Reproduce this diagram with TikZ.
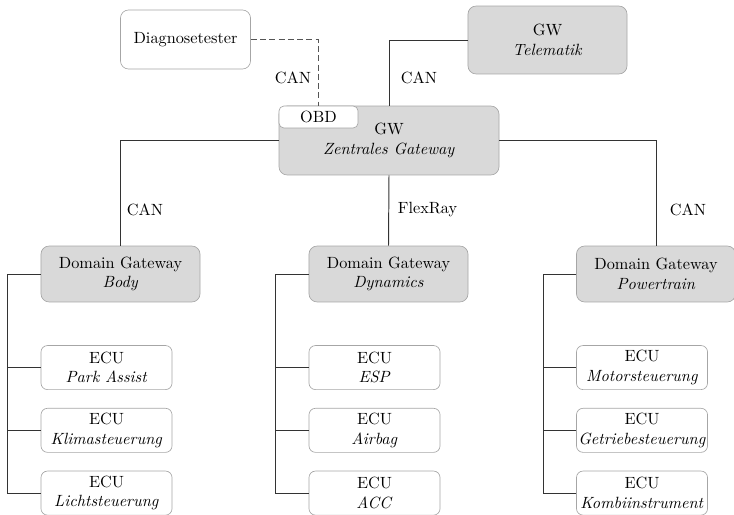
\documentclass[tikz,border=0pt]{standalone}
\usepackage{xcolor}
\definecolor{cLine}{HTML}{333333}
\definecolor{cBorder}{HTML}{A6A6A6}
\definecolor{cFill}{HTML}{D9D9D9}
\definecolor{cDash}{HTML}{555555}
\usetikzlibrary{positioning,calc}
\tikzset{
  node-gw/.style={draw=cBorder,fill=cFill,rounded corners=5pt,align=center,
    inner sep=0pt,minimum width=97.8pt},
  node-ecu/.style={draw=cBorder,fill=white,rounded corners=4pt,align=center,
    inner sep=0pt,minimum width=80.6pt,minimum height=27.1pt},
  node-tester/.style={draw=cBorder,fill=white,rounded corners=5pt,align=center,
    inner sep=0pt,minimum width=80pt,minimum height=36.3pt},
  node-port/.style={draw=cBorder,fill=white,rounded corners=3pt,
    inner sep=0pt,minimum width=48.6pt,minimum height=13.5pt},
  bus/.style={draw=cLine,semithick},
  bus-diag/.style={draw=cDash,semithick,dash pattern=on 3.7pt off 2pt},
}

\begin{document}
\begin{tikzpicture}[x=0.615pt,y=-0.615pt,node distance=11.1pt]
  \useasboundingbox (0,0) rectangle (734,515);
  % Gateways
  \node[node-tester] (diag) at (185.5,39.5) {Diagnosetester};
  \node[node-gw,minimum height=41.8pt] (gwt) at (547.5,40) {GW\\\textit{Telematik}};
  \node[node-gw,minimum width=135.3pt,minimum height=42.4pt] (gwz) at (389,140.5)
    {GW\\\textit{Zentrales Gateway}};
  \node[node-port,anchor=north west] (obd) at (gwz.north west) {OBD};
  \node[node-gw,minimum height=34.4pt] (gwb) at (120.5,274) {Domain Gateway\\\textit{Body}};
  \node[node-gw,minimum height=34.4pt] (gwd) at (388.5,274) {Domain Gateway\\\textit{Dynamics}};
  \node[node-gw,minimum height=34.4pt] (gwp) at (656,274) {Domain Gateway\\\textit{Powertrain}};
  % ECUs
  \node[node-ecu,below=26.4pt of gwb.south west,anchor=north west] (ecuB1) {ECU\\\textit{Park Assist}};
  \node[node-ecu,below=of ecuB1] (ecuB2) {ECU\\\textit{Klimasteuerung}};
  \node[node-ecu,below=of ecuB2] (ecuB3) {ECU\\\textit{Lichtsteuerung}};
  \node[node-ecu,below=26.4pt of gwd.south west,anchor=north west] (ecuD1) {ECU\\\textit{ESP}};
  \node[node-ecu,below=of ecuD1] (ecuD2) {ECU\\\textit{Airbag}};
  \node[node-ecu,below=of ecuD2] (ecuD3) {ECU\\\textit{ACC}};
  \node[node-ecu,below=26.4pt of gwp.south west,anchor=north west] (ecuP1) {ECU\\\textit{Motorsteuerung}};
  \node[node-ecu,below=of ecuP1] (ecuP2) {ECU\\\textit{Getriebesteuerung}};
  \node[node-ecu,below=of ecuP2] (ecuP3) {ECU\\\textit{Kombiinstrument}};
  % Bus labels
  \node (lDiag) at (293,78) {CAN};
  \node (lTel) at (419,78) {CAN};
  \node (lBody) at (145,210) {CAN};
  \node (lDyn) at (427.5,210) {FlexRay};
  \node (lPow) at (688,210) {CAN};
  % Connections
  \draw[bus-diag] (diag.east) -| (obd.north);
  \draw[bus] (gwt.west) -| (gwz.north);
  \draw[bus] (gwz.west) -| (gwb.north);
  \draw[bus] (gwz.south) -- (gwd.north);
  \draw[bus] (gwz.east) -| (gwp.north);
  \foreach \g/\e in {gwb/ecuB,gwd/ecuD,gwp/ecuP}{
    \draw[bus] (\g.west) -- ++(-33,0) |- (\e3.west);
    \draw[bus] (\e1.west) -- ++(-33,0);
    \draw[bus] (\e2.west) -- ++(-33,0);
  }
\end{tikzpicture}
\end{document}
